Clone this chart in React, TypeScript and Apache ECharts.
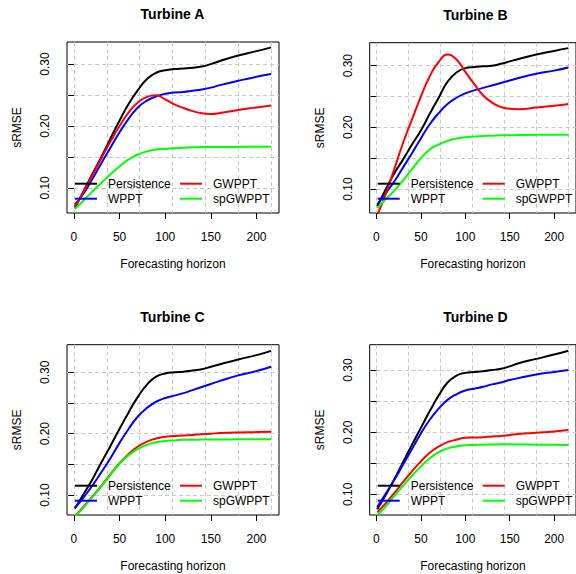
import React, { useEffect, useRef } from "react";
import * as echarts from "echarts";

// ---------- data ----------
const HORIZON = [1, 10, 20, 30, 40, 50, 60, 70, 80, 90, 100, 110, 120, 130, 140, 150, 160, 180, 200, 216];

const SERIES_NAMES = ["Persistence", "WPPT", "GWPPT", "spGWPPT"];
const SERIES_COLORS = ["#000000", "#0000ff", "#ff0000", "#00ff00"];

const A_PERSISTENCE = [0.068, 0.093, 0.122, 0.150, 0.180, 0.209, 0.236, 0.258, 0.276, 0.286, 0.290, 0.292, 0.293, 0.294, 0.296, 0.300, 0.305, 0.314, 0.321, 0.327];
const A_WPPT = [0.073, 0.090, 0.114, 0.140, 0.165, 0.190, 0.212, 0.230, 0.241, 0.248, 0.252, 0.254, 0.255, 0.257, 0.259, 0.262, 0.266, 0.273, 0.2795, 0.284];
const A_GWPPT = [0.070, 0.092, 0.120, 0.148, 0.175, 0.200, 0.222, 0.238, 0.247, 0.2495, 0.243, 0.235, 0.229, 0.224, 0.2205, 0.2195, 0.221, 0.226, 0.230, 0.233];
const A_SPGWPPT = [0.066, 0.079, 0.094, 0.108, 0.122, 0.135, 0.146, 0.154, 0.159, 0.162, 0.163, 0.164, 0.165, 0.1655, 0.166, 0.166, 0.166, 0.1663, 0.1665, 0.1665];

const B_PERSISTENCE = [0.072, 0.098, 0.125, 0.148, 0.172, 0.195, 0.222, 0.248, 0.274, 0.289, 0.296, 0.298, 0.299, 0.300, 0.303, 0.307, 0.311, 0.318, 0.324, 0.3285];
const B_WPPT = [0.075, 0.092, 0.112, 0.135, 0.158, 0.182, 0.205, 0.223, 0.238, 0.248, 0.255, 0.260, 0.264, 0.268, 0.272, 0.276, 0.280, 0.287, 0.292, 0.297];
const B_GWPPT = [0.058, 0.090, 0.132, 0.175, 0.213, 0.250, 0.283, 0.306, 0.318, 0.310, 0.290, 0.270, 0.252, 0.240, 0.233, 0.230, 0.2295, 0.232, 0.235, 0.238];
const B_SPGWPPT = [0.069, 0.083, 0.097, 0.114, 0.132, 0.150, 0.164, 0.172, 0.178, 0.182, 0.184, 0.185, 0.186, 0.1865, 0.187, 0.187, 0.1875, 0.188, 0.188, 0.188];

const C_PERSISTENCE = [0.078, 0.100, 0.125, 0.153, 0.180, 0.208, 0.235, 0.260, 0.280, 0.293, 0.298, 0.300, 0.301, 0.303, 0.305, 0.309, 0.313, 0.321, 0.328, 0.335];
const C_WPPT = [0.079, 0.095, 0.115, 0.137, 0.160, 0.185, 0.208, 0.228, 0.242, 0.252, 0.258, 0.262, 0.266, 0.271, 0.276, 0.281, 0.286, 0.295, 0.302, 0.309];
const C_GWPPT = [0.065, 0.080, 0.097, 0.115, 0.134, 0.152, 0.167, 0.179, 0.187, 0.192, 0.195, 0.196, 0.197, 0.198, 0.199, 0.200, 0.201, 0.202, 0.2025, 0.203];
const C_SPGWPPT = [0.064, 0.079, 0.096, 0.114, 0.133, 0.151, 0.165, 0.175, 0.182, 0.186, 0.188, 0.189, 0.190, 0.190, 0.1905, 0.1905, 0.1906, 0.1907, 0.1908, 0.1908];

const D_PERSISTENCE = [0.076, 0.098, 0.124, 0.152, 0.180, 0.207, 0.234, 0.259, 0.280, 0.291, 0.2955, 0.297, 0.298, 0.300, 0.302, 0.306, 0.311, 0.318, 0.325, 0.331];
const D_WPPT = [0.080, 0.100, 0.123, 0.148, 0.173, 0.198, 0.220, 0.238, 0.252, 0.261, 0.267, 0.270, 0.273, 0.277, 0.280, 0.284, 0.287, 0.293, 0.297, 0.300];
const D_GWPPT = [0.071, 0.085, 0.102, 0.120, 0.137, 0.153, 0.167, 0.177, 0.184, 0.188, 0.191, 0.1915, 0.192, 0.193, 0.194, 0.1955, 0.197, 0.199, 0.201, 0.2035];
const D_SPGWPPT = [0.066, 0.080, 0.097, 0.114, 0.130, 0.145, 0.158, 0.168, 0.174, 0.177, 0.179, 0.1795, 0.180, 0.1802, 0.1805, 0.1805, 0.1803, 0.180, 0.1798, 0.1795];

const TITLES = ["Turbine A", "Turbine B", "Turbine C", "Turbine D"];
const PANEL_VALUES = [
  [A_PERSISTENCE, A_WPPT, A_GWPPT, A_SPGWPPT],
  [B_PERSISTENCE, B_WPPT, B_GWPPT, B_SPGWPPT],
  [C_PERSISTENCE, C_WPPT, C_GWPPT, C_SPGWPPT],
  [D_PERSISTENCE, D_WPPT, D_GWPPT, D_SPGWPPT],
];

const X_TICKS = [0, 50, 100, 150, 200];
const X_GRID = [0, 36, 72, 108, 144, 180, 216];
const Y_TICKS = [0.1, 0.15, 0.2, 0.25, 0.3];
const Y_LABELS = [0.1, 0.2, 0.3];
const X_NAME = "Forecasting horizon";
const Y_NAME = "sRMSE";

// ---------- layout ----------
const X_RANGE = [-7.6, 224.6];
const Y_RANGES = [
  [0.0595, 0.3357],
  [0.061, 0.3373],
  [0.0674, 0.345],
  [0.0668, 0.3408],
];
const PANELS = [
  { left: 67, top: 42, width: 212, height: 171 },
  { left: 369.7, top: 42.7, width: 212.3, height: 170.3 },
  { left: 67, top: 344.7, width: 212, height: 170.3 },
  { left: 369.7, top: 344.7, width: 212.3, height: 170.3 },
];

const FONT = "'Liberation Sans', Arial, Helvetica, sans-serif";

function buildOption() {
  const grid: any[] = [];
  const xAxis: any[] = [];
  const yAxis: any[] = [];
  const series: any[] = [];
  const title: any[] = [];
  const legend: any[] = [];

  PANELS.forEach((p, i) => {
    grid.push({
      left: p.left,
      top: p.top,
      width: p.width,
      height: p.height,
      show: true,
      borderColor: "#000",
      borderWidth: 1,
      backgroundColor: "transparent",
      containLabel: false,
    });
    xAxis.push({
      type: "value",
      gridIndex: i,
      min: X_RANGE[0],
      max: X_RANGE[1],
      position: "bottom",
      axisLine: { show: false },
      axisTick: { show: true, length: 6, customValues: X_TICKS, lineStyle: { color: "#000" } },
      axisLabel: { customValues: X_TICKS, margin: 18, color: "#000", fontSize: 12, fontFamily: FONT },
      splitLine: { show: false },
      name: X_NAME,
      nameLocation: "middle",
      nameGap: 45,
      nameTextStyle: { color: "#000", fontSize: 12, fontFamily: FONT },
    });
    xAxis.push({
      type: "value",
      gridIndex: i,
      min: X_RANGE[0],
      max: X_RANGE[1],
      position: "bottom",
      axisLine: { show: false },
      axisTick: { show: false, customValues: X_GRID },
      axisLabel: { show: false, customValues: X_GRID },
      splitLine: { show: true, lineStyle: { color: "#c8c8c8", width: 1, type: [4, 3] } },
    });
    yAxis.push({
      type: "value",
      gridIndex: i,
      min: Y_RANGES[i][0],
      max: Y_RANGES[i][1],
      axisLine: { show: false },
      axisTick: { show: true, length: 6, customValues: Y_TICKS, lineStyle: { color: "#000" } },
      axisLabel: {
        customValues: Y_LABELS,
        rotate: 90,
        margin: 16,
        color: "#000",
        fontSize: 12,
        fontFamily: FONT,
        formatter: (v: number) => v.toFixed(2),
      },
      splitLine: { show: true, lineStyle: { color: "#c8c8c8", width: 1, type: [4, 3] } },
      name: Y_NAME,
      nameLocation: "middle",
      nameGap: 44,
      nameTextStyle: { color: "#000", fontSize: 12, fontFamily: FONT },
    });
    title.push({
      text: TITLES[i],
      left: p.left + p.width / 2 - 0.5,
      top: p.top - 35,
      textAlign: "center",
      padding: 0,
      textStyle: { fontSize: 14, fontWeight: "bold", color: "#000", fontFamily: FONT },
    });
    const legendTop = p.top + p.height - 36.3;
    [
      [SERIES_NAMES[0], SERIES_NAMES[1]],
      [SERIES_NAMES[2], SERIES_NAMES[3]],
    ].forEach((names, c) => {
      legend.push({
        data: names,
        orient: "vertical",
        left: p.left + (c === 0 ? 8 : 113),
        top: legendTop,
        padding: 0,
        icon: "rect",
        itemWidth: 22,
        itemHeight: 2,
        itemGap: 1,
        selectedMode: false,
        itemStyle: { borderWidth: 0 },
        textStyle: {
          color: "#000",
          fontSize: 12,
          lineHeight: 14,
          fontFamily: FONT,
          padding: [0, 0, 0, 6],
        },
      });
    });
    PANEL_VALUES[i].forEach((vals, k) => {
      series.push({
        type: "line",
        name: SERIES_NAMES[k],
        xAxisIndex: i * 2,
        yAxisIndex: i,
        data: HORIZON.map((h, j) => [h, vals[j]]),
        smooth: true,
        symbol: "none",
        clip: true,
        lineStyle: { color: SERIES_COLORS[k], width: 2 },
        itemStyle: { color: SERIES_COLORS[k] },
      });
    });
  });

  return {
    animation: false,
    backgroundColor: "#ffffff",
    textStyle: { fontFamily: FONT },
    grid,
    xAxis,
    yAxis,
    series,
    title,
    legend,
  };
}

export default function App() {
  const ref = useRef<HTMLDivElement>(null);
  useEffect(() => {
    if (!ref.current) return;
    const chart = echarts.init(ref.current, undefined, { renderer: "svg" });
    chart.setOption(buildOption() as any);
    return () => chart.dispose();
  }, []);
  return (
    <div
      ref={ref}
      style={{ position: "absolute", left: 0, top: 0, width: 576, height: 574 }}
    />
  );
}
